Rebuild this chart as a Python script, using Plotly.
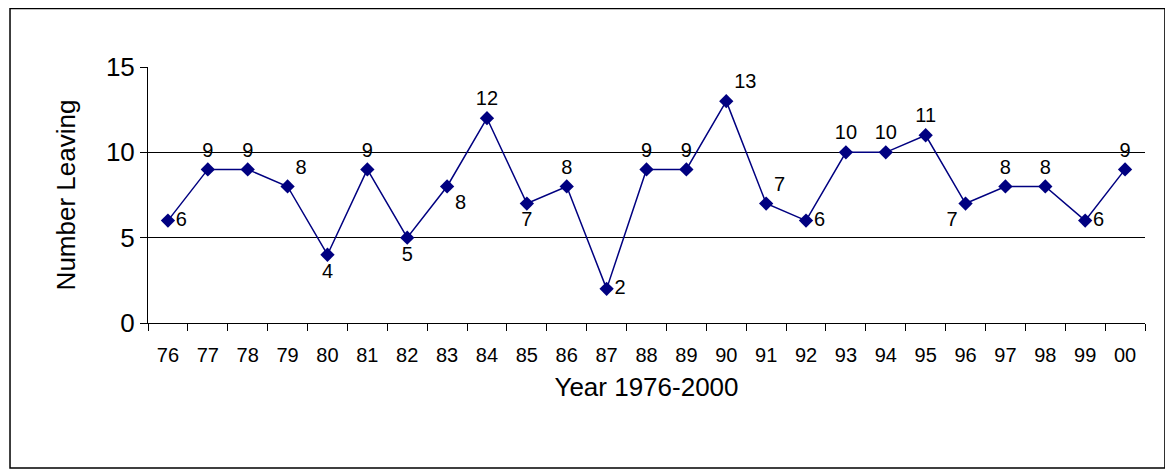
import plotly.graph_objects as go

years = ["76", "77", "78", "79", "80", "81", "82", "83", "84", "85", "86", "87", "88",
         "89", "90", "91", "92", "93", "94", "95", "96", "97", "98", "99", "00"]
leaving = [6, 9, 9, 8, 4, 9, 5, 8, 12, 7, 8, 2, 9, 9, 13, 7, 6, 10, 10, 11, 7, 8, 8, 6, 9]
label_pos = ["middle right", "top center", "top center", "top right", "bottom center",
             "top center", "bottom center", "bottom right", "top center", "bottom center",
             "top center", "middle right", "top center", "top center", "top right",
             "top right", "middle right", "top center", "top center", "top center",
             "bottom left", "top center", "top center", "middle right", "top center"]

fig = go.Figure(
    go.Scatter(
        x=years, y=leaving, mode="lines+markers+text",
        text=[str(v) for v in leaving], textposition=label_pos,
        textfont={"size": 20, "color": "black"},
        line={"color": "#000080", "width": 1.5},
        marker={"symbol": "diamond", "size": 11, "color": "#000080"},
        cliponaxis=False,
    )
)

fig.update_layout(
    width=1173, height=473,
    paper_bgcolor="white", plot_bgcolor="white",
    margin={"l": 140, "r": 36, "t": 59, "b": 158, "autoexpand": False},
    font={"family": "Liberation Sans, Arial", "color": "black"},
    showlegend=False,
    xaxis={
        "type": "category", "range": [-0.5, 24.5], "automargin": False,
        "tickson": "boundaries", "ticks": "outside", "ticklen": 7,
        "ticklabelstandoff": 14,
        "tickcolor": "black", "showline": True, "linecolor": "black", "showgrid": False,
        "tickfont": {"size": 20},
        "title": {"text": "Year 1976-2000", "font": {"size": 26}, "standoff": 12},
    },
    yaxis={
        "range": [0, 15], "tickvals": [0, 5, 10, 15], "ticks": "outside", "ticklen": 7,
        "automargin": False,
        "tickcolor": "black", "showline": True, "linecolor": "black",
        "gridcolor": "black", "gridwidth": 1, "zeroline": False,
        "tickfont": {"size": 26},
        "title": {"text": "Number Leaving", "font": {"size": 26}, "standoff": 22},
    },
    shapes=[{
        "type": "rect", "xref": "paper", "yref": "paper",
        "x0": -0.1384, "x1": 1.020, "y0": -0.566, "y1": 1.2285,
        "line": {"color": "black", "width": 1.5},
    }],
)

fig.write_html("out.html")
